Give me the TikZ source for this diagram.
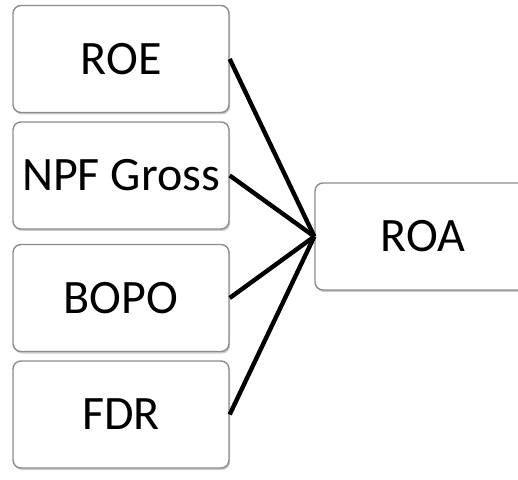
\documentclass[tikz,border=0pt]{standalone}
\usepackage{fontspec}
\setmainfont{Carlito}
\usetikzlibrary{shadows}
\tikzset{
  varbox/.style={draw=gray!90, line width=1.4pt, fill=white, rounded corners=8pt,
    minimum width=216pt, minimum height=107pt, inner sep=0pt,
    font=\fontsize{48}{52}\selectfont,
    drop shadow={opacity=0.4, shadow xshift=1.2pt, shadow yshift=-2pt}},
  link/.style={line width=4.4pt}
}
\begin{document}
\begin{tikzpicture}[x=1pt,y=1pt]
        \clip (0,0) rectangle (518,479);
        \useasboundingbox (0,0) rectangle (518,479);
        \node [varbox] (roe) at (121,420) {ROE};
        \node [varbox] (npf) at (121,303.5) {NPF Gross};
        \node [varbox] (bopo) at (121,181) {BOPO};
        \node [varbox] (fdr) at (121,64.5) {FDR};
        \node [varbox] (roa) at (423,242.5) {ROA};
        \draw [link] (roe.east) -- (roa.west);
        \draw [link] (npf.east) -- (roa.west);
        \draw [link] (bopo.east) -- (roa.west);
        \draw [link] (fdr.east) -- (roa.west);
    \end{tikzpicture}
\end{document}
